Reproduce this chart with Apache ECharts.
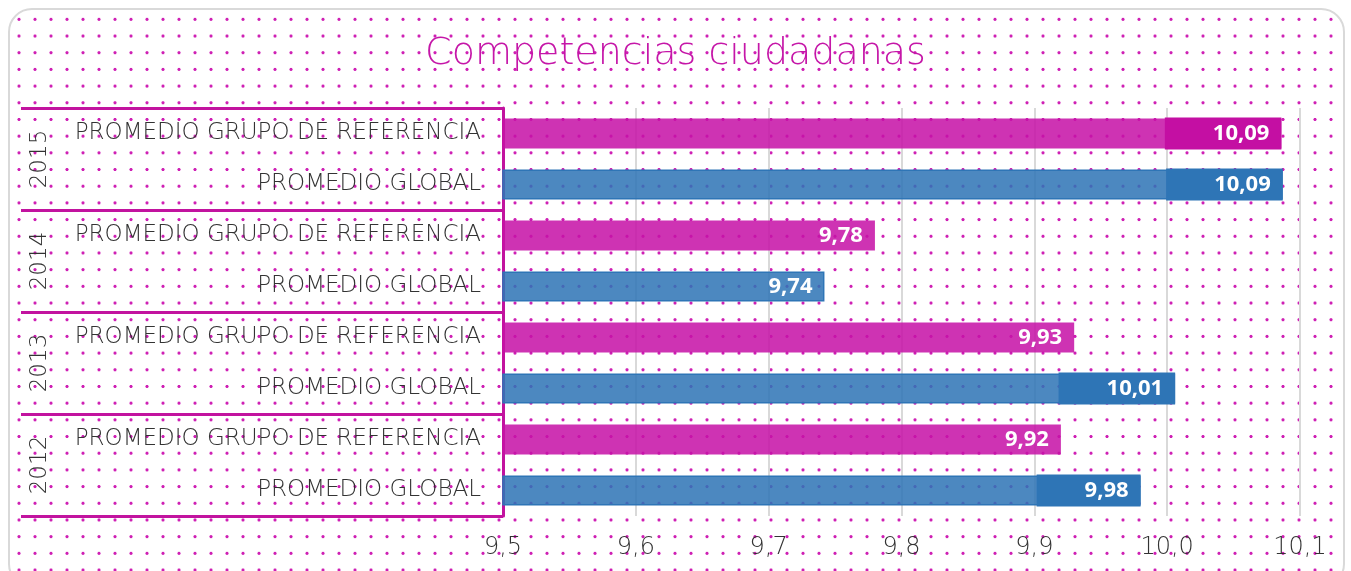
<!DOCTYPE html>
<html>
<head>
<meta charset="utf-8">
<script src="https://cdn.jsdelivr.net/npm/echarts@6/dist/echarts.min.js"></script>
<style>
  html, body { margin: 0; padding: 0; width: 1351px; height: 571px; overflow: hidden; background: #ffffff; }
  #frame {
    position: absolute; left: 8px; top: 8px; width: 1337px; height: 580px;
    border: 2px solid #d9d9d9; border-radius: 24px; box-sizing: border-box;
    background-color: #ffffff;
    background-image: radial-gradient(circle, rgba(204,20,176,0.95) 1.3px, rgba(204,20,176,0) 1.9px);
    background-size: 16px 16.7px;
    background-position: 1px 1px;
  }
  #chart { position: absolute; left: 0; top: 0; width: 1351px; height: 571px; }
</style>
</head>
<body>
<div id="frame"></div>
<div id="chart"></div>
<script>
// ---- data ----
const title = 'Competencias ciudadanas';
const years = ['2015', '2014', '2013', '2012'];
const rowLabels = ['PROMEDIO GRUPO DE REFERENCIA', 'PROMEDIO GLOBAL'];
const referenceValues = [10.086, 9.78, 9.93, 9.92];
const globalValues = [10.087, 9.742, 10.006, 9.98];
const xTicks = [9.5, 9.6, 9.7, 9.8, 9.9, 10.0, 10.1];

// ---- build ----
const categories = [];
const barData = [];
const pink = 'rgba(198,18,166,0.86)';
const pinkDark = '#C40FA3';
const blue = 'rgba(46,117,182,0.86)';
const blueDark = '#2E75B6';
years.forEach((y, i) => {
  categories.push(rowLabels[0]);
  categories.push(rowLabels[1]);
  const pair = [[referenceValues[i], pink, pinkDark, null], [globalValues[i], blue, blueDark, blueDark]];
  pair.forEach(([v, c, dark, border]) => {
    barData.push({
      value: v,
      itemStyle: { color: c, borderColor: border || 'rgba(0,0,0,0)', borderWidth: border ? 1.5 : 0 },
      label: { backgroundColor: v > 9.95 ? dark : 'transparent' }
    });
  });
});

const fontFamily = "'DejaVu Sans', 'Open Sans', sans-serif";
const textColor = '#333333';
const chart = echarts.init(document.getElementById('chart'), null, { renderer: 'canvas' });
chart.setOption({
  backgroundColor: 'transparent',
  animation: false,
  title: {
    text: title, left: 'center', top: 30,
    textStyle: { fontFamily: fontFamily, fontWeight: 200, fontSize: 38, color: '#C516A8' }
  },
  grid: { left: 503, right: 51, top: 108, bottom: 55, containLabel: false },
  xAxis: {
    type: 'value', min: xTicks[0], max: xTicks[xTicks.length - 1], interval: 0.1,
    axisLine: { show: false }, axisTick: { show: false },
    splitLine: { show: true, lineStyle: { color: '#d9d9d9', width: 2 } },
    axisLabel: {
      margin: 20, fontFamily: fontFamily, fontWeight: 200, fontSize: 24, color: textColor,
      formatter: v => v.toFixed(1).replace('.', ',')
    }
  },
  yAxis: [
    {
      type: 'category', data: categories, inverse: true, position: 'left',
      axisLine: { show: false }, axisTick: { show: false },
      axisLabel: { margin: 22, fontFamily: fontFamily, fontWeight: 200, fontSize: 23, color: textColor }
    },
    {
      type: 'category', data: years, inverse: true, position: 'left', offset: 0,
      axisLine: { show: true, lineStyle: { color: '#C2139F', width: 3 } },
      axisTick: { show: true, length: 482, lineStyle: { color: '#C2139F', width: 3 } },
      axisLabel: { rotate: 90, margin: 451, fontFamily: fontFamily, fontWeight: 200, fontSize: 23, color: textColor }
    }
  ],
  series: [{
    type: 'bar', yAxisIndex: 0, data: barData, barWidth: 30,
    label: {
      show: true, position: 'insideRight', distance: 0,
      color: '#ffffff', fontFamily: "'Open Sans', sans-serif", fontWeight: 'bold', fontSize: 22,
      lineHeight: 22, padding: [5, 12, 5, 48],
      formatter: p => p.value.toFixed(2).replace('.', ',')
    }
  }]
});
</script>
</body>
</html>
